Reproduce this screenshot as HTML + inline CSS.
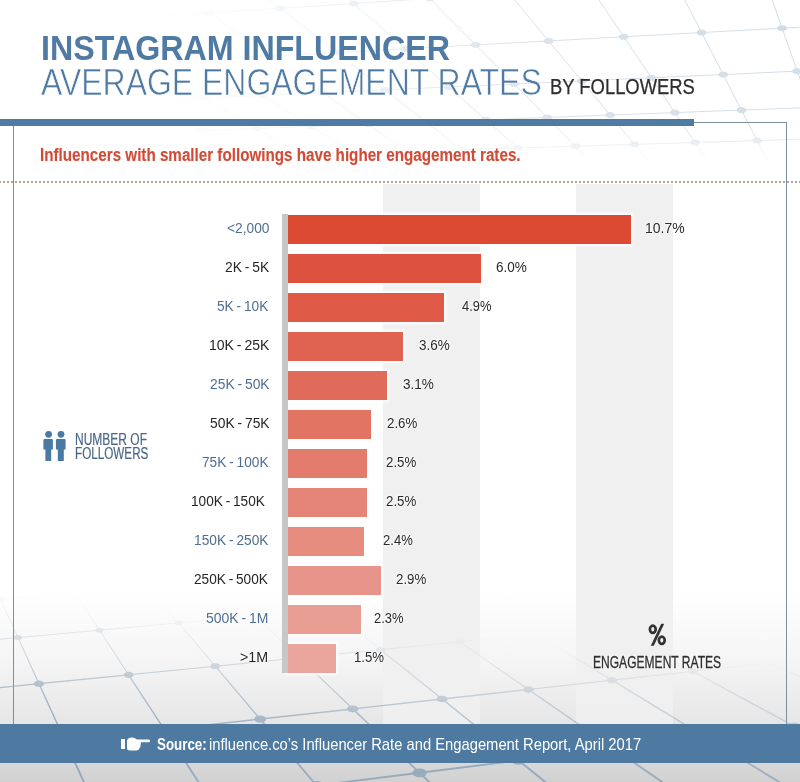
<!DOCTYPE html>
<html><head><meta charset="utf-8">
<style>
html,body{margin:0;padding:0;}
body{width:800px;height:782px;position:relative;overflow:hidden;background:#fff;font-family:"Liberation Sans",sans-serif;}
.a{position:absolute;}
.tx{position:absolute;white-space:nowrap;transform-origin:0 0;font-family:"Liberation Sans",sans-serif;}
#bg{position:absolute;left:0;top:0;width:800px;height:782px;background:linear-gradient(to bottom,#ffffff 0px,#ffffff 590px,#f5f5f5 660px,#e6e6e6 724px,#d8d8d8 763px,#d1d1d1 782px);}
.col{position:absolute;}
.bar{position:absolute;left:288px;height:29px;box-shadow:0 0 2px 2px rgba(255,255,255,0.85);}
</style></head><body>
<div id="bg"></div>
<svg class="a" style="left:0;top:0" width="800" height="782" viewBox="0 0 800 782">
<defs>
<linearGradient id="gb" x1="400" y1="628" x2="388" y2="758" gradientUnits="userSpaceOnUse"><stop offset="0" stop-color="#fff" stop-opacity="0"/><stop offset="1" stop-color="#fff" stop-opacity="1"/></linearGradient>
<mask id="mb" maskUnits="userSpaceOnUse" x="0" y="0" width="800" height="782"><rect x="0" y="0" width="800" height="782" fill="url(#gb)"/></mask>
<radialGradient id="gt" cx="780" cy="20" r="640" gradientUnits="userSpaceOnUse"><stop offset="0" stop-color="#fff" stop-opacity="1"/><stop offset="0.4" stop-color="#fff" stop-opacity="0.8"/><stop offset="0.75" stop-color="#fff" stop-opacity="0.3"/><stop offset="1" stop-color="#fff" stop-opacity="0"/></radialGradient><linearGradient id="gt2" x1="0" y1="0" x2="0" y2="200" gradientUnits="userSpaceOnUse"><stop offset="0" stop-color="#000" stop-opacity="0"/><stop offset="0.62" stop-color="#000" stop-opacity="0"/><stop offset="0.82" stop-color="#000" stop-opacity="1"/></linearGradient>
<mask id="mt" maskUnits="userSpaceOnUse" x="0" y="0" width="800" height="782"><rect x="0" y="0" width="800" height="200" fill="url(#gt)"/><rect x="0" y="0" width="800" height="200" fill="url(#gt2)"/></mask>
</defs><g mask="url(#mt)"><g stroke="#d3dce4" stroke-width="1" fill="none"><line x1="-1092.9" y1="-274.8" x2="294.0" y2="274.7"/><line x1="-1021.2" y1="-288.8" x2="328.0" y2="274.6"/><line x1="-945.8" y1="-303.6" x2="362.6" y2="274.5"/><line x1="-866.4" y1="-319.1" x2="397.7" y2="274.4"/><line x1="-782.8" y1="-335.5" x2="433.4" y2="274.3"/><line x1="-694.5" y1="-352.8" x2="469.7" y2="274.2"/><line x1="-601.2" y1="-371.0" x2="506.6" y2="274.1"/><line x1="-502.4" y1="-390.4" x2="544.1" y2="273.9"/><line x1="-397.6" y1="-410.9" x2="582.2" y2="273.8"/><line x1="-286.3" y1="-432.7" x2="621.0" y2="273.7"/><line x1="-167.8" y1="-455.9" x2="660.5" y2="273.6"/><line x1="-41.5" y1="-480.6" x2="700.7" y2="273.5"/><line x1="93.6" y1="-507.0" x2="741.5" y2="273.3"/><line x1="238.2" y1="-535.3" x2="783.1" y2="273.2"/><line x1="393.5" y1="-565.8" x2="825.4" y2="273.1"/><line x1="560.8" y1="-598.5" x2="868.5" y2="272.9"/><line x1="741.4" y1="-633.8" x2="912.4" y2="272.8"/><line x1="937.0" y1="-672.1" x2="957.0" y2="272.7"/><line x1="1149.5" y1="-713.7" x2="1002.5" y2="272.5"/><line x1="1381.3" y1="-759.1" x2="1048.8" y2="272.4"/><line x1="-1561.5" y1="-183.1" x2="2222.5" y2="-923.8"/><line x1="-1314.5" y1="-112.3" x2="1947.6" y2="-604.4"/><line x1="-1111.5" y1="-54.2" x2="1771.2" y2="-399.5"/><line x1="-941.7" y1="-5.6" x2="1648.4" y2="-256.8"/><line x1="-797.6" y1="35.7" x2="1558.0" y2="-151.8"/><line x1="-673.8" y1="71.1" x2="1488.6" y2="-71.2"/><line x1="-566.3" y1="101.9" x2="1433.7" y2="-7.5"/><line x1="-472.0" y1="128.9" x2="1389.2" y2="44.2"/><line x1="-388.7" y1="152.8" x2="1352.4" y2="87.0"/><line x1="-314.5" y1="174.0" x2="1321.4" y2="123.0"/><line x1="-248.0" y1="193.0" x2="1295.0" y2="153.7"/><line x1="-188.1" y1="210.2" x2="1272.2" y2="180.1"/><line x1="-133.9" y1="225.7" x2="1252.4" y2="203.2"/><line x1="-84.6" y1="239.8" x2="1234.9" y2="223.5"/><line x1="-39.4" y1="252.8" x2="1219.4" y2="241.5"/><line x1="1.9" y1="264.6" x2="1205.6" y2="257.5"/></g><g fill="#d3dce4"><ellipse cx="13.9" cy="163.8" rx="5" ry="3"/><ellipse cx="67.5" cy="185.0" rx="5" ry="3"/><ellipse cx="115.3" cy="203.9" rx="5" ry="3"/><ellipse cx="158.3" cy="221.0" rx="5" ry="3"/><ellipse cx="197.1" cy="236.3" rx="5" ry="3"/><ellipse cx="1.0" cy="138.0" rx="5" ry="3"/><ellipse cx="59.2" cy="162.3" rx="5" ry="3"/><ellipse cx="110.7" cy="183.9" rx="5" ry="3"/><ellipse cx="156.7" cy="203.1" rx="5" ry="3"/><ellipse cx="198.0" cy="220.3" rx="5" ry="3"/><ellipse cx="235.2" cy="235.9" rx="5" ry="3"/><ellipse cx="269.0" cy="250.0" rx="5" ry="3"/><ellipse cx="49.6" cy="136.2" rx="5" ry="3"/><ellipse cx="105.4" cy="160.9" rx="5" ry="3"/><ellipse cx="154.9" cy="182.7" rx="5" ry="3"/><ellipse cx="198.9" cy="202.2" rx="5" ry="3"/><ellipse cx="238.4" cy="219.7" rx="5" ry="3"/><ellipse cx="274.0" cy="235.4" rx="5" ry="3"/><ellipse cx="306.3" cy="249.7" rx="5" ry="3"/><ellipse cx="38.4" cy="105.7" rx="5" ry="3"/><ellipse cx="99.4" cy="134.3" rx="5" ry="3"/><ellipse cx="152.8" cy="159.4" rx="5" ry="3"/><ellipse cx="200.0" cy="181.6" rx="5" ry="3"/><ellipse cx="242.0" cy="201.3" rx="5" ry="3"/><ellipse cx="279.7" cy="219.0" rx="5" ry="3"/><ellipse cx="313.6" cy="234.9" rx="5" ry="3"/><ellipse cx="344.3" cy="249.3" rx="5" ry="3"/><ellipse cx="25.1" cy="69.6" rx="5" ry="3"/><ellipse cx="92.2" cy="103.2" rx="5" ry="3"/><ellipse cx="150.4" cy="132.4" rx="5" ry="3"/><ellipse cx="201.3" cy="157.9" rx="5" ry="3"/><ellipse cx="246.2" cy="180.4" rx="5" ry="3"/><ellipse cx="286.1" cy="200.4" rx="5" ry="3"/><ellipse cx="321.7" cy="218.3" rx="5" ry="3"/><ellipse cx="353.8" cy="234.4" rx="5" ry="3"/><ellipse cx="382.9" cy="249.0" rx="5" ry="3"/><ellipse cx="9.2" cy="26.2" rx="5" ry="3"/><ellipse cx="83.8" cy="66.4" rx="5" ry="3"/><ellipse cx="147.6" cy="100.7" rx="5" ry="3"/><ellipse cx="202.8" cy="130.4" rx="5" ry="3"/><ellipse cx="250.9" cy="156.4" rx="5" ry="3"/><ellipse cx="293.4" cy="179.2" rx="5" ry="3"/><ellipse cx="331.0" cy="199.5" rx="5" ry="3"/><ellipse cx="364.7" cy="217.6" rx="5" ry="3"/><ellipse cx="394.9" cy="233.9" rx="5" ry="3"/><ellipse cx="422.2" cy="248.6" rx="5" ry="3"/><ellipse cx="73.6" cy="21.9" rx="5" ry="3"/><ellipse cx="144.2" cy="63.0" rx="5" ry="3"/><ellipse cx="204.5" cy="98.1" rx="5" ry="3"/><ellipse cx="256.5" cy="128.4" rx="5" ry="3"/><ellipse cx="301.8" cy="154.8" rx="5" ry="3"/><ellipse cx="341.6" cy="178.0" rx="5" ry="3"/><ellipse cx="376.9" cy="198.5" rx="5" ry="3"/><ellipse cx="408.4" cy="216.9" rx="5" ry="3"/><ellipse cx="436.7" cy="233.4" rx="5" ry="3"/><ellipse cx="462.3" cy="248.3" rx="5" ry="3"/><ellipse cx="140.2" cy="17.5" rx="5" ry="3"/><ellipse cx="206.5" cy="59.6" rx="5" ry="3"/><ellipse cx="263.0" cy="95.5" rx="5" ry="3"/><ellipse cx="311.5" cy="126.3" rx="5" ry="3"/><ellipse cx="353.8" cy="153.2" rx="5" ry="3"/><ellipse cx="391.0" cy="176.7" rx="5" ry="3"/><ellipse cx="423.8" cy="197.6" rx="5" ry="3"/><ellipse cx="453.1" cy="216.2" rx="5" ry="3"/><ellipse cx="479.4" cy="232.9" rx="5" ry="3"/><ellipse cx="503.1" cy="247.9" rx="5" ry="3"/><ellipse cx="209.0" cy="13.0" rx="5" ry="3"/><ellipse cx="270.7" cy="56.1" rx="5" ry="3"/><ellipse cx="323.1" cy="92.7" rx="5" ry="3"/><ellipse cx="368.1" cy="124.2" rx="5" ry="3"/><ellipse cx="407.2" cy="151.5" rx="5" ry="3"/><ellipse cx="441.4" cy="175.4" rx="5" ry="3"/><ellipse cx="471.7" cy="196.6" rx="5" ry="3"/><ellipse cx="498.7" cy="215.4" rx="5" ry="3"/><ellipse cx="522.8" cy="232.3" rx="5" ry="3"/><ellipse cx="544.6" cy="247.5" rx="5" ry="3"/><ellipse cx="280.2" cy="8.3" rx="5" ry="3"/><ellipse cx="336.9" cy="52.5" rx="5" ry="3"/><ellipse cx="385.0" cy="89.9" rx="5" ry="3"/><ellipse cx="426.2" cy="122.0" rx="5" ry="3"/><ellipse cx="461.9" cy="149.8" rx="5" ry="3"/><ellipse cx="493.1" cy="174.1" rx="5" ry="3"/><ellipse cx="520.7" cy="195.6" rx="5" ry="3"/><ellipse cx="545.2" cy="214.7" rx="5" ry="3"/><ellipse cx="567.2" cy="231.8" rx="5" ry="3"/><ellipse cx="586.9" cy="247.1" rx="5" ry="3"/><ellipse cx="353.8" cy="3.5" rx="5" ry="3"/><ellipse cx="405.2" cy="48.8" rx="5" ry="3"/><ellipse cx="448.7" cy="87.0" rx="5" ry="3"/><ellipse cx="485.8" cy="119.7" rx="5" ry="3"/><ellipse cx="517.9" cy="148.0" rx="5" ry="3"/><ellipse cx="546.0" cy="172.8" rx="5" ry="3"/><ellipse cx="570.8" cy="194.6" rx="5" ry="3"/><ellipse cx="592.7" cy="213.9" rx="5" ry="3"/><ellipse cx="612.4" cy="231.2" rx="5" ry="3"/><ellipse cx="630.0" cy="246.8" rx="5" ry="3"/><ellipse cx="430.0" cy="-1.5" rx="5" ry="3"/><ellipse cx="475.7" cy="44.9" rx="5" ry="3"/><ellipse cx="514.2" cy="84.0" rx="5" ry="3"/><ellipse cx="547.1" cy="117.4" rx="5" ry="3"/><ellipse cx="575.5" cy="146.2" rx="5" ry="3"/><ellipse cx="600.2" cy="171.4" rx="5" ry="3"/><ellipse cx="622.0" cy="193.5" rx="5" ry="3"/><ellipse cx="641.3" cy="213.1" rx="5" ry="3"/><ellipse cx="658.5" cy="230.6" rx="5" ry="3"/><ellipse cx="674.0" cy="246.4" rx="5" ry="3"/><ellipse cx="509.0" cy="-6.7" rx="5" ry="3"/><ellipse cx="548.6" cy="40.9" rx="5" ry="3"/><ellipse cx="581.8" cy="81.0" rx="5" ry="3"/><ellipse cx="610.1" cy="115.0" rx="5" ry="3"/><ellipse cx="634.5" cy="144.4" rx="5" ry="3"/><ellipse cx="655.7" cy="170.0" rx="5" ry="3"/><ellipse cx="674.3" cy="192.4" rx="5" ry="3"/><ellipse cx="690.9" cy="212.3" rx="5" ry="3"/><ellipse cx="705.6" cy="230.0" rx="5" ry="3"/><ellipse cx="718.8" cy="246.0" rx="5" ry="3"/><ellipse cx="623.8" cy="36.8" rx="5" ry="3"/><ellipse cx="651.4" cy="77.8" rx="5" ry="3"/><ellipse cx="674.9" cy="112.6" rx="5" ry="3"/><ellipse cx="695.0" cy="142.5" rx="5" ry="3"/><ellipse cx="712.5" cy="168.5" rx="5" ry="3"/><ellipse cx="727.9" cy="191.3" rx="5" ry="3"/><ellipse cx="741.5" cy="211.5" rx="5" ry="3"/><ellipse cx="753.6" cy="229.5" rx="5" ry="3"/><ellipse cx="764.5" cy="245.6" rx="5" ry="3"/><ellipse cx="701.6" cy="32.6" rx="5" ry="3"/><ellipse cx="723.2" cy="74.5" rx="5" ry="3"/><ellipse cx="741.5" cy="110.1" rx="5" ry="3"/><ellipse cx="757.2" cy="140.6" rx="5" ry="3"/><ellipse cx="770.8" cy="167.0" rx="5" ry="3"/><ellipse cx="782.7" cy="190.2" rx="5" ry="3"/><ellipse cx="793.3" cy="210.7" rx="5" ry="3"/><ellipse cx="802.6" cy="228.8" rx="5" ry="3"/><ellipse cx="782.1" cy="28.2" rx="5" ry="3"/><ellipse cx="797.2" cy="71.2" rx="5" ry="3"/></g></g>
</svg>

<!-- frame lines -->
<div class="a" style="left:0;top:119px;width:694px;height:7px;background:#4f7ba3;"></div>
<div class="a" style="left:694px;top:122px;width:93px;height:1px;background:#7b8fa3;"></div>
<div class="a" style="left:786px;top:122px;width:1px;height:602px;background:#7b8fa3;"></div>
<div class="a" style="left:13px;top:126px;width:1px;height:598px;background:#7b8fa3;"></div>

<div class="a" style="left:0;top:181px;width:800px;height:2px;background-image:linear-gradient(to right,#b3a59c 50%,transparent 50%);background-size:4px 2px;background-position:-1px 0;"></div>

<!-- columns -->
<div class="col" style="left:383px;top:184px;width:97px;height:540px;background:linear-gradient(to bottom,#f0f0f1 0px,#f0f0f1 470px,rgba(240,240,241,0.6) 620px,rgba(240,240,241,0) 720px);"></div>
<div class="col" style="left:576px;top:184px;width:97px;height:540px;background:linear-gradient(to bottom,#f0f0f1 0px,#f0f0f1 470px,rgba(240,240,241,0.6) 620px,rgba(240,240,241,0) 720px);"></div>

<svg class="a" style="left:0;top:0" width="800" height="782" viewBox="0 0 800 782">
<g mask="url(#mb)"><g stroke="#98abbd" fill="none" stroke-linecap="round"><line x1="-394.8" y1="498.6" x2="-409.3" y2="519.3" stroke-width="0.90"/><line x1="-409.3" y1="519.3" x2="-425.9" y2="543.0" stroke-width="0.90"/><line x1="-425.9" y1="543.0" x2="-445.1" y2="570.5" stroke-width="0.90"/><line x1="-445.1" y1="570.5" x2="-467.7" y2="602.7" stroke-width="0.90"/><line x1="-467.7" y1="602.7" x2="-494.5" y2="641.0" stroke-width="0.90"/><line x1="-494.5" y1="641.0" x2="-526.9" y2="687.2" stroke-width="1.09"/><line x1="-526.9" y1="687.2" x2="-566.8" y2="744.2" stroke-width="1.48"/><line x1="-566.8" y1="744.2" x2="-617.1" y2="816.1" stroke-width="1.98"/><line x1="-335.4" y1="495.0" x2="-345.7" y2="515.2" stroke-width="0.90"/><line x1="-345.7" y1="515.2" x2="-357.5" y2="538.3" stroke-width="0.90"/><line x1="-357.5" y1="538.3" x2="-371.1" y2="565.1" stroke-width="0.90"/><line x1="-371.1" y1="565.1" x2="-387.1" y2="596.4" stroke-width="0.90"/><line x1="-387.1" y1="596.4" x2="-406.0" y2="633.5" stroke-width="0.90"/><line x1="-406.0" y1="633.5" x2="-428.8" y2="678.3" stroke-width="1.02"/><line x1="-428.8" y1="678.3" x2="-456.8" y2="733.2" stroke-width="1.41"/><line x1="-456.8" y1="733.2" x2="-492.0" y2="802.3" stroke-width="1.88"/><line x1="-277.1" y1="491.4" x2="-283.4" y2="511.1" stroke-width="0.90"/><line x1="-283.4" y1="511.1" x2="-290.6" y2="533.7" stroke-width="0.90"/><line x1="-290.6" y1="533.7" x2="-298.9" y2="559.8" stroke-width="0.90"/><line x1="-298.9" y1="559.8" x2="-308.5" y2="590.3" stroke-width="0.90"/><line x1="-308.5" y1="590.3" x2="-320.0" y2="626.3" stroke-width="0.90"/><line x1="-320.0" y1="626.3" x2="-333.8" y2="669.6" stroke-width="0.96"/><line x1="-333.8" y1="669.6" x2="-350.6" y2="722.6" stroke-width="1.33"/><line x1="-350.6" y1="722.6" x2="-371.8" y2="789.0" stroke-width="1.79"/><line x1="-371.8" y1="789.0" x2="-399.0" y2="874.6" stroke-width="2.00"/><line x1="-219.9" y1="487.9" x2="-222.4" y2="507.2" stroke-width="0.90"/><line x1="-222.4" y1="507.2" x2="-225.1" y2="529.2" stroke-width="0.90"/><line x1="-225.1" y1="529.2" x2="-228.3" y2="554.7" stroke-width="0.90"/><line x1="-228.3" y1="554.7" x2="-232.1" y2="584.3" stroke-width="0.90"/><line x1="-232.1" y1="584.3" x2="-236.5" y2="619.3" stroke-width="0.90"/><line x1="-236.5" y1="619.3" x2="-241.7" y2="661.2" stroke-width="0.90"/><line x1="-241.7" y1="661.2" x2="-248.2" y2="712.4" stroke-width="1.26"/><line x1="-248.2" y1="712.4" x2="-256.2" y2="776.2" stroke-width="1.70"/><line x1="-256.2" y1="776.2" x2="-266.5" y2="858.1" stroke-width="2.00"/><line x1="-163.9" y1="484.4" x2="-162.6" y2="503.3" stroke-width="0.90"/><line x1="-162.6" y1="503.3" x2="-161.2" y2="524.8" stroke-width="0.90"/><line x1="-161.2" y1="524.8" x2="-159.5" y2="549.6" stroke-width="0.90"/><line x1="-159.5" y1="549.6" x2="-157.6" y2="578.5" stroke-width="0.90"/><line x1="-157.6" y1="578.5" x2="-155.3" y2="612.5" stroke-width="0.90"/><line x1="-155.3" y1="612.5" x2="-152.5" y2="653.1" stroke-width="0.90"/><line x1="-152.5" y1="653.1" x2="-149.2" y2="702.5" stroke-width="1.19"/><line x1="-149.2" y1="702.5" x2="-145.0" y2="763.9" stroke-width="1.62"/><line x1="-145.0" y1="763.9" x2="-139.8" y2="842.3" stroke-width="2.00"/><line x1="-108.9" y1="481.0" x2="-104.1" y2="499.5" stroke-width="0.90"/><line x1="-104.1" y1="499.5" x2="-98.6" y2="520.6" stroke-width="0.90"/><line x1="-98.6" y1="520.6" x2="-92.3" y2="544.7" stroke-width="0.90"/><line x1="-92.3" y1="544.7" x2="-84.9" y2="572.8" stroke-width="0.90"/><line x1="-84.9" y1="572.8" x2="-76.3" y2="605.9" stroke-width="0.90"/><line x1="-76.3" y1="605.9" x2="-66.0" y2="645.2" stroke-width="0.90"/><line x1="-66.0" y1="645.2" x2="-53.5" y2="693.0" stroke-width="1.12"/><line x1="-53.5" y1="693.0" x2="-38.0" y2="752.1" stroke-width="1.53"/><line x1="-38.0" y1="752.1" x2="-18.4" y2="827.2" stroke-width="2.00"/><line x1="-55.0" y1="477.7" x2="-46.8" y2="495.8" stroke-width="0.90"/><line x1="-46.8" y1="495.8" x2="-37.4" y2="516.4" stroke-width="0.90"/><line x1="-37.4" y1="516.4" x2="-26.6" y2="539.9" stroke-width="0.90"/><line x1="-26.6" y1="539.9" x2="-14.1" y2="567.3" stroke-width="0.90"/><line x1="-14.1" y1="567.3" x2="0.5" y2="599.4" stroke-width="0.90"/><line x1="0.5" y1="599.4" x2="18.0" y2="637.6" stroke-width="0.90"/><line x1="18.0" y1="637.6" x2="39.0" y2="683.7" stroke-width="1.06"/><line x1="39.0" y1="683.7" x2="65.0" y2="740.7" stroke-width="1.46"/><line x1="65.0" y1="740.7" x2="97.9" y2="812.8" stroke-width="1.95"/><line x1="-2.1" y1="474.5" x2="9.4" y2="492.1" stroke-width="0.90"/><line x1="9.4" y1="492.1" x2="22.5" y2="512.2" stroke-width="0.90"/><line x1="22.5" y1="512.2" x2="37.6" y2="535.3" stroke-width="0.90"/><line x1="37.6" y1="535.3" x2="54.9" y2="561.9" stroke-width="0.90"/><line x1="54.9" y1="561.9" x2="75.3" y2="593.1" stroke-width="0.90"/><line x1="75.3" y1="593.1" x2="99.5" y2="630.2" stroke-width="0.90"/><line x1="99.5" y1="630.2" x2="128.6" y2="674.8" stroke-width="1.00"/><line x1="128.6" y1="674.8" x2="164.4" y2="729.7" stroke-width="1.38"/><line x1="164.4" y1="729.7" x2="209.5" y2="798.9" stroke-width="1.86"/><line x1="209.5" y1="798.9" x2="268.1" y2="888.7" stroke-width="2.00"/><line x1="49.8" y1="471.3" x2="64.5" y2="488.6" stroke-width="0.90"/><line x1="64.5" y1="488.6" x2="81.2" y2="508.2" stroke-width="0.90"/><line x1="81.2" y1="508.2" x2="100.3" y2="530.7" stroke-width="0.90"/><line x1="100.3" y1="530.7" x2="122.3" y2="556.7" stroke-width="0.90"/><line x1="122.3" y1="556.7" x2="148.1" y2="587.0" stroke-width="0.90"/><line x1="148.1" y1="587.0" x2="178.6" y2="622.9" stroke-width="0.90"/><line x1="178.6" y1="622.9" x2="215.3" y2="666.2" stroke-width="0.94"/><line x1="215.3" y1="666.2" x2="260.2" y2="719.1" stroke-width="1.30"/><line x1="260.2" y1="719.1" x2="316.6" y2="785.6" stroke-width="1.76"/><line x1="316.6" y1="785.6" x2="389.5" y2="871.4" stroke-width="2.00"/><line x1="100.8" y1="468.1" x2="118.5" y2="485.1" stroke-width="0.90"/><line x1="118.5" y1="485.1" x2="138.6" y2="504.3" stroke-width="0.90"/><line x1="138.6" y1="504.3" x2="161.6" y2="526.2" stroke-width="0.90"/><line x1="161.6" y1="526.2" x2="188.1" y2="551.5" stroke-width="0.90"/><line x1="188.1" y1="551.5" x2="219.0" y2="581.1" stroke-width="0.90"/><line x1="219.0" y1="581.1" x2="255.5" y2="615.9" stroke-width="0.90"/><line x1="255.5" y1="615.9" x2="299.3" y2="657.8" stroke-width="0.90"/><line x1="299.3" y1="657.8" x2="352.8" y2="708.9" stroke-width="1.23"/><line x1="352.8" y1="708.9" x2="419.6" y2="772.8" stroke-width="1.68"/><line x1="419.6" y1="772.8" x2="505.5" y2="854.8" stroke-width="2.00"/><line x1="150.9" y1="465.0" x2="171.5" y2="481.6" stroke-width="0.90"/><line x1="171.5" y1="481.6" x2="194.9" y2="500.4" stroke-width="0.90"/><line x1="194.9" y1="500.4" x2="221.6" y2="521.8" stroke-width="0.90"/><line x1="221.6" y1="521.8" x2="252.3" y2="546.5" stroke-width="0.90"/><line x1="252.3" y1="546.5" x2="288.1" y2="575.3" stroke-width="0.90"/><line x1="288.1" y1="575.3" x2="330.2" y2="609.1" stroke-width="0.90"/><line x1="330.2" y1="609.1" x2="380.7" y2="649.7" stroke-width="0.90"/><line x1="380.7" y1="649.7" x2="442.1" y2="699.0" stroke-width="1.16"/><line x1="442.1" y1="699.0" x2="518.6" y2="760.5" stroke-width="1.59"/><line x1="518.6" y1="760.5" x2="616.4" y2="839.0" stroke-width="2.00"/><line x1="223.5" y1="478.3" x2="250.0" y2="496.6" stroke-width="0.90"/><line x1="250.0" y1="496.6" x2="280.2" y2="517.6" stroke-width="0.90"/><line x1="280.2" y1="517.6" x2="315.0" y2="541.6" stroke-width="0.90"/><line x1="315.0" y1="541.6" x2="355.4" y2="569.6" stroke-width="0.90"/><line x1="355.4" y1="569.6" x2="402.9" y2="602.5" stroke-width="0.90"/><line x1="402.9" y1="602.5" x2="459.6" y2="641.8" stroke-width="0.90"/><line x1="459.6" y1="641.8" x2="528.5" y2="689.5" stroke-width="1.10"/><line x1="528.5" y1="689.5" x2="613.9" y2="748.6" stroke-width="1.51"/><line x1="613.9" y1="748.6" x2="722.6" y2="823.9" stroke-width="2.00"/><line x1="274.4" y1="475.0" x2="304.0" y2="492.9" stroke-width="0.90"/><line x1="304.0" y1="492.9" x2="337.6" y2="513.4" stroke-width="0.90"/><line x1="337.6" y1="513.4" x2="376.2" y2="536.9" stroke-width="0.90"/><line x1="376.2" y1="536.9" x2="421.0" y2="564.1" stroke-width="0.90"/><line x1="421.0" y1="564.1" x2="473.6" y2="596.1" stroke-width="0.90"/><line x1="473.6" y1="596.1" x2="536.2" y2="634.1" stroke-width="0.90"/><line x1="536.2" y1="634.1" x2="612.0" y2="680.2" stroke-width="1.03"/><line x1="612.0" y1="680.2" x2="705.6" y2="737.2" stroke-width="1.43"/><line x1="705.6" y1="737.2" x2="824.3" y2="809.4" stroke-width="1.93"/><line x1="324.4" y1="471.7" x2="356.9" y2="489.3" stroke-width="0.90"/><line x1="356.9" y1="489.3" x2="393.7" y2="509.3" stroke-width="0.90"/><line x1="393.7" y1="509.3" x2="436.0" y2="532.2" stroke-width="0.90"/><line x1="436.0" y1="532.2" x2="485.0" y2="558.7" stroke-width="0.90"/><line x1="485.0" y1="558.7" x2="542.4" y2="589.8" stroke-width="0.90"/><line x1="542.4" y1="589.8" x2="610.5" y2="626.7" stroke-width="0.90"/><line x1="610.5" y1="626.7" x2="692.8" y2="671.3" stroke-width="0.97"/><line x1="692.8" y1="671.3" x2="794.1" y2="726.2" stroke-width="1.35"/><line x1="794.1" y1="726.2" x2="921.9" y2="795.4" stroke-width="1.83"/><line x1="921.9" y1="795.4" x2="1088.1" y2="885.5" stroke-width="2.00"/><line x1="373.5" y1="468.5" x2="408.7" y2="485.7" stroke-width="0.90"/><line x1="408.7" y1="485.7" x2="448.7" y2="505.3" stroke-width="0.90"/><line x1="448.7" y1="505.3" x2="494.5" y2="527.6" stroke-width="0.90"/><line x1="494.5" y1="527.6" x2="547.4" y2="553.5" stroke-width="0.90"/><line x1="547.4" y1="553.5" x2="609.3" y2="583.7" stroke-width="0.90"/><line x1="609.3" y1="583.7" x2="682.7" y2="619.5" stroke-width="0.90"/><line x1="682.7" y1="619.5" x2="771.0" y2="662.7" stroke-width="0.91"/><line x1="771.0" y1="662.7" x2="879.4" y2="715.6" stroke-width="1.28"/><line x1="879.4" y1="715.6" x2="1015.5" y2="782.1" stroke-width="1.74"/><line x1="1015.5" y1="782.1" x2="1191.7" y2="868.1" stroke-width="2.00"/><line x1="421.6" y1="465.4" x2="459.5" y2="482.2" stroke-width="0.90"/><line x1="459.5" y1="482.2" x2="502.5" y2="501.3" stroke-width="0.90"/><line x1="502.5" y1="501.3" x2="551.6" y2="523.2" stroke-width="0.90"/><line x1="551.6" y1="523.2" x2="608.3" y2="548.4" stroke-width="0.90"/><line x1="608.3" y1="548.4" x2="674.5" y2="577.8" stroke-width="0.90"/><line x1="674.5" y1="577.8" x2="752.8" y2="612.5" stroke-width="0.90"/><line x1="752.8" y1="612.5" x2="846.7" y2="654.3" stroke-width="0.90"/><line x1="846.7" y1="654.3" x2="961.7" y2="705.4" stroke-width="1.21"/><line x1="961.7" y1="705.4" x2="1105.5" y2="769.3" stroke-width="1.65"/><line x1="1105.5" y1="769.3" x2="1290.6" y2="851.5" stroke-width="2.00"/><line x1="509.4" y1="478.8" x2="555.2" y2="497.5" stroke-width="0.90"/><line x1="555.2" y1="497.5" x2="607.5" y2="518.8" stroke-width="0.90"/><line x1="607.5" y1="518.8" x2="667.8" y2="543.4" stroke-width="0.90"/><line x1="667.8" y1="543.4" x2="738.0" y2="572.0" stroke-width="0.90"/><line x1="738.0" y1="572.0" x2="820.9" y2="605.7" stroke-width="0.90"/><line x1="820.9" y1="605.7" x2="920.1" y2="646.2" stroke-width="0.90"/><line x1="920.1" y1="646.2" x2="1041.1" y2="695.5" stroke-width="1.14"/><line x1="1041.1" y1="695.5" x2="1191.9" y2="756.9" stroke-width="1.56"/><line x1="1191.9" y1="756.9" x2="1385.1" y2="835.6" stroke-width="2.00"/><line x1="558.3" y1="475.5" x2="606.8" y2="493.7" stroke-width="0.90"/><line x1="606.8" y1="493.7" x2="662.2" y2="514.5" stroke-width="0.90"/><line x1="662.2" y1="514.5" x2="725.8" y2="538.5" stroke-width="0.90"/><line x1="725.8" y1="538.5" x2="799.9" y2="566.3" stroke-width="0.90"/><line x1="799.9" y1="566.3" x2="887.1" y2="599.1" stroke-width="0.90"/><line x1="887.1" y1="599.1" x2="991.3" y2="638.3" stroke-width="0.90"/><line x1="991.3" y1="638.3" x2="1117.9" y2="685.9" stroke-width="1.07"/><line x1="1117.9" y1="685.9" x2="1275.1" y2="745.1" stroke-width="1.48"/><line x1="1275.1" y1="745.1" x2="1475.6" y2="820.4" stroke-width="2.00"/><line x1="606.2" y1="472.2" x2="657.4" y2="490.0" stroke-width="0.90"/><line x1="657.4" y1="490.0" x2="715.6" y2="510.4" stroke-width="0.90"/><line x1="715.6" y1="510.4" x2="782.6" y2="533.7" stroke-width="0.90"/><line x1="782.6" y1="533.7" x2="860.2" y2="560.8" stroke-width="0.90"/><line x1="860.2" y1="560.8" x2="951.5" y2="592.7" stroke-width="0.90"/><line x1="951.5" y1="592.7" x2="1060.3" y2="630.7" stroke-width="0.90"/><line x1="1060.3" y1="630.7" x2="1192.1" y2="676.7" stroke-width="1.01"/><line x1="1192.1" y1="676.7" x2="1355.3" y2="733.6" stroke-width="1.40"/><line x1="1355.3" y1="733.6" x2="1562.3" y2="805.9" stroke-width="1.90"/><line x1="653.3" y1="468.9" x2="706.9" y2="486.4" stroke-width="0.90"/><line x1="706.9" y1="486.4" x2="767.9" y2="506.3" stroke-width="0.90"/><line x1="767.9" y1="506.3" x2="837.9" y2="529.1" stroke-width="0.90"/><line x1="837.9" y1="529.1" x2="919.1" y2="555.5" stroke-width="0.90"/><line x1="919.1" y1="555.5" x2="1014.2" y2="586.5" stroke-width="0.90"/><line x1="1014.2" y1="586.5" x2="1127.3" y2="623.3" stroke-width="0.90"/><line x1="1127.3" y1="623.3" x2="1263.9" y2="667.8" stroke-width="0.94"/><line x1="1263.9" y1="667.8" x2="1432.4" y2="722.6" stroke-width="1.32"/><line x1="1432.4" y1="722.6" x2="1645.3" y2="791.9" stroke-width="1.80"/><line x1="1645.3" y1="791.9" x2="1922.9" y2="882.3" stroke-width="2.00"/><line x1="699.4" y1="465.8" x2="755.5" y2="482.9" stroke-width="0.90"/><line x1="755.5" y1="482.9" x2="819.1" y2="502.3" stroke-width="0.90"/><line x1="819.1" y1="502.3" x2="892.1" y2="524.5" stroke-width="0.90"/><line x1="892.1" y1="524.5" x2="976.4" y2="550.3" stroke-width="0.90"/><line x1="976.4" y1="550.3" x2="1075.2" y2="580.4" stroke-width="0.90"/><line x1="1075.2" y1="580.4" x2="1192.3" y2="616.1" stroke-width="0.90"/><line x1="1192.3" y1="616.1" x2="1333.4" y2="659.1" stroke-width="0.90"/><line x1="1333.4" y1="659.1" x2="1506.9" y2="712.0" stroke-width="1.25"/><line x1="1506.9" y1="712.0" x2="1725.1" y2="778.6" stroke-width="1.71"/><line x1="1725.1" y1="778.6" x2="2007.9" y2="864.8" stroke-width="2.00"/><line x1="803.1" y1="479.4" x2="869.3" y2="498.4" stroke-width="0.90"/><line x1="869.3" y1="498.4" x2="945.0" y2="520.1" stroke-width="0.90"/><line x1="945.0" y1="520.1" x2="1032.4" y2="545.2" stroke-width="0.90"/><line x1="1032.4" y1="545.2" x2="1134.6" y2="574.4" stroke-width="0.90"/><line x1="1134.6" y1="574.4" x2="1255.4" y2="609.1" stroke-width="0.90"/><line x1="1255.4" y1="609.1" x2="1400.7" y2="650.8" stroke-width="0.90"/><line x1="1400.7" y1="650.8" x2="1578.7" y2="701.8" stroke-width="1.18"/><line x1="1578.7" y1="701.8" x2="1801.6" y2="765.7" stroke-width="1.62"/><line x1="1801.6" y1="765.7" x2="2089.2" y2="848.1" stroke-width="2.00"/><line x1="-46.8" y1="495.8" x2="9.4" y2="492.1" stroke-width="0.90"/><line x1="9.4" y1="492.1" x2="64.5" y2="488.6" stroke-width="0.90"/><line x1="64.5" y1="488.6" x2="118.5" y2="485.1" stroke-width="0.90"/><line x1="118.5" y1="485.1" x2="171.5" y2="481.6" stroke-width="0.90"/><line x1="171.5" y1="481.6" x2="223.5" y2="478.3" stroke-width="0.90"/><line x1="-37.4" y1="516.4" x2="22.5" y2="512.2" stroke-width="0.90"/><line x1="22.5" y1="512.2" x2="81.2" y2="508.2" stroke-width="0.90"/><line x1="81.2" y1="508.2" x2="138.6" y2="504.3" stroke-width="0.90"/><line x1="138.6" y1="504.3" x2="194.9" y2="500.4" stroke-width="0.90"/><line x1="194.9" y1="500.4" x2="250.0" y2="496.6" stroke-width="0.90"/><line x1="250.0" y1="496.6" x2="304.0" y2="492.9" stroke-width="0.90"/><line x1="304.0" y1="492.9" x2="356.9" y2="489.3" stroke-width="0.90"/><line x1="356.9" y1="489.3" x2="408.7" y2="485.7" stroke-width="0.90"/><line x1="408.7" y1="485.7" x2="459.5" y2="482.2" stroke-width="0.90"/><line x1="459.5" y1="482.2" x2="509.4" y2="478.8" stroke-width="0.90"/><line x1="-26.6" y1="539.9" x2="37.6" y2="535.3" stroke-width="0.90"/><line x1="37.6" y1="535.3" x2="100.3" y2="530.7" stroke-width="0.90"/><line x1="100.3" y1="530.7" x2="161.6" y2="526.2" stroke-width="0.90"/><line x1="161.6" y1="526.2" x2="221.6" y2="521.8" stroke-width="0.90"/><line x1="221.6" y1="521.8" x2="280.2" y2="517.6" stroke-width="0.90"/><line x1="280.2" y1="517.6" x2="337.6" y2="513.4" stroke-width="0.90"/><line x1="337.6" y1="513.4" x2="393.7" y2="509.3" stroke-width="0.90"/><line x1="393.7" y1="509.3" x2="448.7" y2="505.3" stroke-width="0.90"/><line x1="448.7" y1="505.3" x2="502.5" y2="501.3" stroke-width="0.90"/><line x1="502.5" y1="501.3" x2="555.2" y2="497.5" stroke-width="0.90"/><line x1="555.2" y1="497.5" x2="606.8" y2="493.7" stroke-width="0.90"/><line x1="606.8" y1="493.7" x2="657.4" y2="490.0" stroke-width="0.90"/><line x1="657.4" y1="490.0" x2="706.9" y2="486.4" stroke-width="0.90"/><line x1="706.9" y1="486.4" x2="755.5" y2="482.9" stroke-width="0.90"/><line x1="755.5" y1="482.9" x2="803.1" y2="479.4" stroke-width="0.90"/><line x1="-84.9" y1="572.8" x2="-14.1" y2="567.3" stroke-width="0.90"/><line x1="-14.1" y1="567.3" x2="54.9" y2="561.9" stroke-width="0.90"/><line x1="54.9" y1="561.9" x2="122.3" y2="556.7" stroke-width="0.90"/><line x1="122.3" y1="556.7" x2="188.1" y2="551.5" stroke-width="0.90"/><line x1="188.1" y1="551.5" x2="252.3" y2="546.5" stroke-width="0.90"/><line x1="252.3" y1="546.5" x2="315.0" y2="541.6" stroke-width="0.90"/><line x1="315.0" y1="541.6" x2="376.2" y2="536.9" stroke-width="0.90"/><line x1="376.2" y1="536.9" x2="436.0" y2="532.2" stroke-width="0.90"/><line x1="436.0" y1="532.2" x2="494.5" y2="527.6" stroke-width="0.90"/><line x1="494.5" y1="527.6" x2="551.6" y2="523.2" stroke-width="0.90"/><line x1="551.6" y1="523.2" x2="607.5" y2="518.8" stroke-width="0.90"/><line x1="607.5" y1="518.8" x2="662.2" y2="514.5" stroke-width="0.90"/><line x1="662.2" y1="514.5" x2="715.6" y2="510.4" stroke-width="0.90"/><line x1="715.6" y1="510.4" x2="767.9" y2="506.3" stroke-width="0.90"/><line x1="767.9" y1="506.3" x2="819.1" y2="502.3" stroke-width="0.90"/><line x1="819.1" y1="502.3" x2="869.3" y2="498.4" stroke-width="0.90"/><line x1="-76.3" y1="605.9" x2="0.5" y2="599.4" stroke-width="0.90"/><line x1="0.5" y1="599.4" x2="75.3" y2="593.1" stroke-width="0.90"/><line x1="75.3" y1="593.1" x2="148.1" y2="587.0" stroke-width="0.90"/><line x1="148.1" y1="587.0" x2="219.0" y2="581.1" stroke-width="0.90"/><line x1="219.0" y1="581.1" x2="288.1" y2="575.3" stroke-width="0.90"/><line x1="288.1" y1="575.3" x2="355.4" y2="569.6" stroke-width="0.90"/><line x1="355.4" y1="569.6" x2="421.0" y2="564.1" stroke-width="0.90"/><line x1="421.0" y1="564.1" x2="485.0" y2="558.7" stroke-width="0.90"/><line x1="485.0" y1="558.7" x2="547.4" y2="553.5" stroke-width="0.90"/><line x1="547.4" y1="553.5" x2="608.3" y2="548.4" stroke-width="0.90"/><line x1="608.3" y1="548.4" x2="667.8" y2="543.4" stroke-width="0.90"/><line x1="667.8" y1="543.4" x2="725.8" y2="538.5" stroke-width="0.90"/><line x1="725.8" y1="538.5" x2="782.6" y2="533.7" stroke-width="0.90"/><line x1="782.6" y1="533.7" x2="837.9" y2="529.1" stroke-width="0.90"/><line x1="-66.0" y1="645.2" x2="18.0" y2="637.6" stroke-width="0.91"/><line x1="18.0" y1="637.6" x2="99.5" y2="630.2" stroke-width="0.90"/><line x1="99.5" y1="630.2" x2="178.6" y2="622.9" stroke-width="0.90"/><line x1="178.6" y1="622.9" x2="255.5" y2="615.9" stroke-width="0.90"/><line x1="255.5" y1="615.9" x2="330.2" y2="609.1" stroke-width="0.90"/><line x1="330.2" y1="609.1" x2="402.9" y2="602.5" stroke-width="0.90"/><line x1="402.9" y1="602.5" x2="473.6" y2="596.1" stroke-width="0.90"/><line x1="473.6" y1="596.1" x2="542.4" y2="589.8" stroke-width="0.90"/><line x1="542.4" y1="589.8" x2="609.3" y2="583.7" stroke-width="0.90"/><line x1="609.3" y1="583.7" x2="674.5" y2="577.8" stroke-width="0.90"/><line x1="674.5" y1="577.8" x2="738.0" y2="572.0" stroke-width="0.90"/><line x1="738.0" y1="572.0" x2="799.9" y2="566.3" stroke-width="0.90"/><line x1="799.9" y1="566.3" x2="860.2" y2="560.8" stroke-width="0.90"/><line x1="-53.5" y1="693.0" x2="39.0" y2="683.7" stroke-width="1.27"/><line x1="39.0" y1="683.7" x2="128.6" y2="674.8" stroke-width="1.20"/><line x1="128.6" y1="674.8" x2="215.3" y2="666.2" stroke-width="1.13"/><line x1="215.3" y1="666.2" x2="299.3" y2="657.8" stroke-width="1.07"/><line x1="299.3" y1="657.8" x2="380.7" y2="649.7" stroke-width="1.01"/><line x1="380.7" y1="649.7" x2="459.6" y2="641.8" stroke-width="0.94"/><line x1="459.6" y1="641.8" x2="536.2" y2="634.1" stroke-width="0.90"/><line x1="536.2" y1="634.1" x2="610.5" y2="626.7" stroke-width="0.90"/><line x1="610.5" y1="626.7" x2="682.7" y2="619.5" stroke-width="0.90"/><line x1="682.7" y1="619.5" x2="752.8" y2="612.5" stroke-width="0.90"/><line x1="752.8" y1="612.5" x2="820.9" y2="605.7" stroke-width="0.90"/><line x1="-38.0" y1="752.1" x2="65.0" y2="740.7" stroke-width="1.72"/><line x1="65.0" y1="740.7" x2="164.4" y2="729.7" stroke-width="1.63"/><line x1="164.4" y1="729.7" x2="260.2" y2="719.1" stroke-width="1.55"/><line x1="260.2" y1="719.1" x2="352.8" y2="708.9" stroke-width="1.47"/><line x1="352.8" y1="708.9" x2="442.1" y2="699.0" stroke-width="1.39"/><line x1="442.1" y1="699.0" x2="528.5" y2="689.5" stroke-width="1.32"/><line x1="528.5" y1="689.5" x2="612.0" y2="680.2" stroke-width="1.25"/><line x1="612.0" y1="680.2" x2="692.8" y2="671.3" stroke-width="1.18"/><line x1="692.8" y1="671.3" x2="771.0" y2="662.7" stroke-width="1.11"/><line x1="771.0" y1="662.7" x2="846.7" y2="654.3" stroke-width="1.04"/><line x1="97.9" y1="812.8" x2="209.5" y2="798.9" stroke-width="2.00"/><line x1="209.5" y1="798.9" x2="316.6" y2="785.6" stroke-width="2.00"/><line x1="316.6" y1="785.6" x2="419.6" y2="772.8" stroke-width="1.97"/><line x1="419.6" y1="772.8" x2="518.6" y2="760.5" stroke-width="1.87"/><line x1="518.6" y1="760.5" x2="613.9" y2="748.6" stroke-width="1.78"/><line x1="613.9" y1="748.6" x2="705.6" y2="737.2" stroke-width="1.69"/><line x1="705.6" y1="737.2" x2="794.1" y2="726.2" stroke-width="1.61"/><line x1="794.1" y1="726.2" x2="879.4" y2="715.6" stroke-width="1.52"/></g><g fill="#98abbd"><ellipse cx="0.5" cy="599.4" rx="4.0" ry="2.4"/><ellipse cx="18.0" cy="637.6" rx="4.1" ry="2.5"/><ellipse cx="39.0" cy="683.7" rx="5.2" ry="3.1"/><ellipse cx="65.0" cy="740.7" rx="6.5" ry="3.9"/><ellipse cx="9.4" cy="492.1" rx="4.0" ry="2.4"/><ellipse cx="22.5" cy="512.2" rx="4.0" ry="2.4"/><ellipse cx="37.6" cy="535.3" rx="4.0" ry="2.4"/><ellipse cx="54.9" cy="561.9" rx="4.0" ry="2.4"/><ellipse cx="75.3" cy="593.1" rx="4.0" ry="2.4"/><ellipse cx="99.5" cy="630.2" rx="4.0" ry="2.4"/><ellipse cx="128.6" cy="674.8" rx="5.0" ry="3.0"/><ellipse cx="164.4" cy="729.7" rx="6.3" ry="3.8"/><ellipse cx="64.5" cy="488.6" rx="4.0" ry="2.4"/><ellipse cx="81.2" cy="508.2" rx="4.0" ry="2.4"/><ellipse cx="100.3" cy="530.7" rx="4.0" ry="2.4"/><ellipse cx="122.3" cy="556.7" rx="4.0" ry="2.4"/><ellipse cx="148.1" cy="587.0" rx="4.0" ry="2.4"/><ellipse cx="178.6" cy="622.9" rx="4.0" ry="2.4"/><ellipse cx="215.3" cy="666.2" rx="4.8" ry="2.9"/><ellipse cx="260.2" cy="719.1" rx="6.0" ry="3.6"/><ellipse cx="316.6" cy="785.6" rx="7.6" ry="4.5"/><ellipse cx="118.5" cy="485.1" rx="4.0" ry="2.4"/><ellipse cx="138.6" cy="504.3" rx="4.0" ry="2.4"/><ellipse cx="161.6" cy="526.2" rx="4.0" ry="2.4"/><ellipse cx="188.1" cy="551.5" rx="4.0" ry="2.4"/><ellipse cx="219.0" cy="581.1" rx="4.0" ry="2.4"/><ellipse cx="255.5" cy="615.9" rx="4.0" ry="2.4"/><ellipse cx="299.3" cy="657.8" rx="4.6" ry="2.8"/><ellipse cx="352.8" cy="708.9" rx="5.8" ry="3.5"/><ellipse cx="419.6" cy="772.8" rx="7.3" ry="4.4"/><ellipse cx="171.5" cy="481.6" rx="4.0" ry="2.4"/><ellipse cx="194.9" cy="500.4" rx="4.0" ry="2.4"/><ellipse cx="221.6" cy="521.8" rx="4.0" ry="2.4"/><ellipse cx="252.3" cy="546.5" rx="4.0" ry="2.4"/><ellipse cx="288.1" cy="575.3" rx="4.0" ry="2.4"/><ellipse cx="330.2" cy="609.1" rx="4.0" ry="2.4"/><ellipse cx="380.7" cy="649.7" rx="4.4" ry="2.7"/><ellipse cx="442.1" cy="699.0" rx="5.6" ry="3.3"/><ellipse cx="518.6" cy="760.5" rx="7.0" ry="4.2"/><ellipse cx="250.0" cy="496.6" rx="4.0" ry="2.4"/><ellipse cx="280.2" cy="517.6" rx="4.0" ry="2.4"/><ellipse cx="315.0" cy="541.6" rx="4.0" ry="2.4"/><ellipse cx="355.4" cy="569.6" rx="4.0" ry="2.4"/><ellipse cx="402.9" cy="602.5" rx="4.0" ry="2.4"/><ellipse cx="459.6" cy="641.8" rx="4.2" ry="2.5"/><ellipse cx="528.5" cy="689.5" rx="5.3" ry="3.2"/><ellipse cx="613.9" cy="748.6" rx="6.7" ry="4.0"/><ellipse cx="304.0" cy="492.9" rx="4.0" ry="2.4"/><ellipse cx="337.6" cy="513.4" rx="4.0" ry="2.4"/><ellipse cx="376.2" cy="536.9" rx="4.0" ry="2.4"/><ellipse cx="421.0" cy="564.1" rx="4.0" ry="2.4"/><ellipse cx="473.6" cy="596.1" rx="4.0" ry="2.4"/><ellipse cx="536.2" cy="634.1" rx="4.1" ry="2.4"/><ellipse cx="612.0" cy="680.2" rx="5.1" ry="3.1"/><ellipse cx="705.6" cy="737.2" rx="6.4" ry="3.9"/><ellipse cx="356.9" cy="489.3" rx="4.0" ry="2.4"/><ellipse cx="393.7" cy="509.3" rx="4.0" ry="2.4"/><ellipse cx="436.0" cy="532.2" rx="4.0" ry="2.4"/><ellipse cx="485.0" cy="558.7" rx="4.0" ry="2.4"/><ellipse cx="542.4" cy="589.8" rx="4.0" ry="2.4"/><ellipse cx="610.5" cy="626.7" rx="4.0" ry="2.4"/><ellipse cx="692.8" cy="671.3" rx="4.9" ry="3.0"/><ellipse cx="794.1" cy="726.2" rx="6.2" ry="3.7"/><ellipse cx="408.7" cy="485.7" rx="4.0" ry="2.4"/><ellipse cx="448.7" cy="505.3" rx="4.0" ry="2.4"/><ellipse cx="494.5" cy="527.6" rx="4.0" ry="2.4"/><ellipse cx="547.4" cy="553.5" rx="4.0" ry="2.4"/><ellipse cx="609.3" cy="583.7" rx="4.0" ry="2.4"/><ellipse cx="682.7" cy="619.5" rx="4.0" ry="2.4"/><ellipse cx="771.0" cy="662.7" rx="4.7" ry="2.8"/><ellipse cx="459.5" cy="482.2" rx="4.0" ry="2.4"/><ellipse cx="502.5" cy="501.3" rx="4.0" ry="2.4"/><ellipse cx="551.6" cy="523.2" rx="4.0" ry="2.4"/><ellipse cx="608.3" cy="548.4" rx="4.0" ry="2.4"/><ellipse cx="674.5" cy="577.8" rx="4.0" ry="2.4"/><ellipse cx="752.8" cy="612.5" rx="4.0" ry="2.4"/><ellipse cx="555.2" cy="497.5" rx="4.0" ry="2.4"/><ellipse cx="607.5" cy="518.8" rx="4.0" ry="2.4"/><ellipse cx="667.8" cy="543.4" rx="4.0" ry="2.4"/><ellipse cx="738.0" cy="572.0" rx="4.0" ry="2.4"/><ellipse cx="606.8" cy="493.7" rx="4.0" ry="2.4"/><ellipse cx="662.2" cy="514.5" rx="4.0" ry="2.4"/><ellipse cx="725.8" cy="538.5" rx="4.0" ry="2.4"/><ellipse cx="799.9" cy="566.3" rx="4.0" ry="2.4"/><ellipse cx="657.4" cy="490.0" rx="4.0" ry="2.4"/><ellipse cx="715.6" cy="510.4" rx="4.0" ry="2.4"/><ellipse cx="782.6" cy="533.7" rx="4.0" ry="2.4"/><ellipse cx="706.9" cy="486.4" rx="4.0" ry="2.4"/><ellipse cx="767.9" cy="506.3" rx="4.0" ry="2.4"/><ellipse cx="755.5" cy="482.9" rx="4.0" ry="2.4"/></g></g>
</svg>

<!-- bars -->
<div class="bar" style="top:215px;width:343px;background:#dc4a34;"></div>
<div class="bar" style="top:254px;width:193px;background:#dd523e;"></div>
<div class="bar" style="top:293px;width:156px;background:#df5b47;"></div>
<div class="bar" style="top:332px;width:115px;background:#e06351;"></div>
<div class="bar" style="top:371px;width:99px;background:#e16b5a;"></div>
<div class="bar" style="top:410px;width:83px;background:#e27464;"></div>
<div class="bar" style="top:449px;width:79px;background:#e47c6d;"></div>
<div class="bar" style="top:488px;width:79px;background:#e58577;"></div>
<div class="bar" style="top:527px;width:76px;background:#e68d80;"></div>
<div class="bar" style="top:566px;width:93px;background:#e7958a;"></div>
<div class="bar" style="top:605px;width:73px;background:#e99e93;"></div>
<div class="bar" style="top:644px;width:48px;background:#eaa69d;"></div>


<!-- axis -->
<div class="a" style="left:282px;top:214px;width:6px;height:459px;background:#c7c7c7;"></div>

<!-- followers icon -->
<svg class="a" style="left:40px;top:428px" width="30" height="36" viewBox="40 428 30 36">
<g fill="#4a79a3">
<circle cx="48.6" cy="434.3" r="3.4"/>
<path d="M43.4 440.2 Q43.4 439.1 44.5 439.1 L51.8 439.1 Q52.9 439.1 52.9 440.2 L52.9 449.6 L51.2 449.6 L51.2 460.9 L45.4 460.9 L45.4 449.6 L43.4 449.6 Z"/>
<circle cx="61" cy="434.3" r="3.4"/>
<path d="M55.9 440.2 Q55.9 439.1 57 439.1 L64.5 439.1 Q65.6 439.1 65.6 440.2 L65.6 449.6 L63.8 449.6 L63.8 460.9 L57.8 460.9 L57.8 449.6 L55.9 449.6 Z"/>
</g>
</svg>

<!-- footer -->
<div class="a" style="left:0;top:724px;width:800px;height:39px;background:#4e7aa1;"></div>
<svg class="a" style="left:118px;top:734px" width="34" height="20" viewBox="118 734 34 20">
<g fill="#ffffff">
<rect x="121" y="739" width="4" height="10"/>
<path d="M127 741 Q127 738 131 737.5 Q134 737 137 739.5 L149 739.5 Q150 739.5 150 741 Q150 742.3 149 742.3 L140.5 742.3 Q141.5 743.5 140.5 745 Q141 747 139.5 748 Q139 750.5 136 750.5 L130 750.5 Q127 750.5 127 748 Z"/>
</g>
</svg>

<svg class="a" style="left:640px;top:618px" width="34" height="34" viewBox="640 618 34 34">
<g fill="none" stroke="#333333" stroke-width="2.7">
<ellipse cx="652.8" cy="629.3" rx="2.9" ry="3.6"/>
<ellipse cx="661.8" cy="640.3" rx="2.9" ry="3.6"/>
</g>
<path d="M661.2 623.8 L664.2 623.8 L653.8 645.8 L650.8 645.8 Z" fill="#333333"/>
</svg>
<div class="tx" style="left:40.66px;top:29.60px;font-size:35.0px;line-height:35.0px;font-weight:bold;color:#4e7aa3;transform:scaleX(0.9197)">INSTAGRAM INFLUENCER</div>
<div class="tx" style="left:41.00px;top:65.00px;font-size:36.0px;line-height:36.0px;font-weight:normal;color:#4e7aa3;-webkit-text-stroke:0.6px #ffffff;transform:scaleX(0.8876)">AVERAGE ENGAGEMENT RATES</div>
<div class="tx" style="left:550.02px;top:75.70px;font-size:21.88px;line-height:21.88px;font-weight:normal;color:#2e2e2e;-webkit-text-stroke:0.25px #2e2e2e;transform:scaleX(0.8414)">BY FOLLOWERS</div>
<div class="tx" style="left:40.21px;top:144.50px;font-size:19.2px;line-height:19.2px;font-weight:bold;color:#d24b36;-webkit-text-stroke:0.15px #d24b36;transform:scaleX(0.7921)">Influencers with smaller followings have higher engagement rates.</div>
<div class="tx" style="left:74.95px;top:431.50px;font-size:16.0px;line-height:16.0px;font-weight:normal;color:#4b6788;-webkit-text-stroke:0.2px #4b6788;text-shadow:0 0 2px #fff,0 0 3px #fff;transform:scaleX(0.7505)">NUMBER OF</div>
<div class="tx" style="left:74.97px;top:445.70px;font-size:16.0px;line-height:16.0px;font-weight:normal;color:#4b6788;-webkit-text-stroke:0.2px #4b6788;text-shadow:0 0 2px #fff,0 0 3px #fff;transform:scaleX(0.7303)">FOLLOWERS</div>
<div class="tx" style="left:592.95px;top:655.00px;font-size:16.0px;line-height:16.0px;font-weight:normal;color:#2f2f2f;-webkit-text-stroke:0.3px #2f2f2f;text-shadow:0 0 2px #fff,0 0 3px #fff;transform:scaleX(0.7533)">ENGAGEMENT RATES</div>
<div class="tx" style="left:156.65px;top:737.20px;font-size:15.7px;line-height:15.7px;font-weight:bold;color:#ffffff;transform:scaleX(0.8518)">Source:</div>
<div class="tx" style="left:209.06px;top:737.20px;font-size:15.7px;line-height:15.7px;font-weight:normal;color:#ffffff;transform:scaleX(0.9410)">influence.co’s Influencer Rate and Engagement Report, April 2017</div>
<div class="tx" style="left:226.91px;top:220.20px;font-size:15.5px;line-height:15.5px;font-weight:normal;color:#4f6f91;text-shadow:0 0 2px #fff,0 0 3px #fff;word-spacing:-1.09px;transform:scaleX(0.8870)">&lt;2,000</div>
<div class="tx" style="left:224.81px;top:259.20px;font-size:15.5px;line-height:15.5px;font-weight:normal;color:#262626;text-shadow:0 0 2px #fff,0 0 3px #fff;word-spacing:-1.09px;transform:scaleX(0.8938)">2K - 5K</div>
<div class="tx" style="left:217.42px;top:298.20px;font-size:15.5px;line-height:15.5px;font-weight:normal;color:#4f6f91;text-shadow:0 0 2px #fff,0 0 3px #fff;word-spacing:-1.09px;transform:scaleX(0.8825)">5K - 10K</div>
<div class="tx" style="left:209.00px;top:337.20px;font-size:15.5px;line-height:15.5px;font-weight:normal;color:#262626;text-shadow:0 0 2px #fff,0 0 3px #fff;word-spacing:-1.09px;transform:scaleX(0.9046)">10K - 25K</div>
<div class="tx" style="left:209.81px;top:376.20px;font-size:15.5px;line-height:15.5px;font-weight:normal;color:#4f6f91;text-shadow:0 0 2px #fff,0 0 3px #fff;word-spacing:-1.09px;transform:scaleX(0.8923)">25K - 50K</div>
<div class="tx" style="left:209.81px;top:415.20px;font-size:15.5px;line-height:15.5px;font-weight:normal;color:#262626;text-shadow:0 0 2px #fff,0 0 3px #fff;word-spacing:-1.09px;transform:scaleX(0.8923)">50K - 75K</div>
<div class="tx" style="left:202.02px;top:454.20px;font-size:15.5px;line-height:15.5px;font-weight:normal;color:#4f6f91;text-shadow:0 0 2px #fff,0 0 3px #fff;word-spacing:-1.09px;transform:scaleX(0.8838)">75K - 100K</div>
<div class="tx" style="left:191.02px;top:493.20px;font-size:15.5px;line-height:15.5px;font-weight:normal;color:#262626;text-shadow:0 0 2px #fff,0 0 3px #fff;word-spacing:-1.09px;transform:scaleX(0.8795)">100K - 150K</div>
<div class="tx" style="left:193.81px;top:532.20px;font-size:15.5px;line-height:15.5px;font-weight:normal;color:#4f6f91;text-shadow:0 0 2px #fff,0 0 3px #fff;word-spacing:-1.09px;transform:scaleX(0.8867)">150K - 250K</div>
<div class="tx" style="left:194.42px;top:571.20px;font-size:15.5px;line-height:15.5px;font-weight:normal;color:#262626;text-shadow:0 0 2px #fff,0 0 3px #fff;word-spacing:-1.09px;transform:scaleX(0.8795)">250K - 500K</div>
<div class="tx" style="left:206.00px;top:610.20px;font-size:15.5px;line-height:15.5px;font-weight:normal;color:#4f6f91;text-shadow:0 0 2px #fff,0 0 3px #fff;word-spacing:-1.09px;transform:scaleX(0.9007)">500K - 1M</div>
<div class="tx" style="left:239.68px;top:649.20px;font-size:15.5px;line-height:15.5px;font-weight:normal;color:#262626;text-shadow:0 0 2px #fff,0 0 3px #fff;word-spacing:-1.09px;transform:scaleX(0.9190)">&gt;1M</div>
<div class="tx" style="left:644.57px;top:219.80px;font-size:15.0px;line-height:15.0px;font-weight:normal;color:#2b2b2b;text-shadow:0 0 2px #fff,0 0 3px #fff;transform:scaleX(0.9317)">10.7%</div>
<div class="tx" style="left:495.70px;top:258.80px;font-size:15.0px;line-height:15.0px;font-weight:normal;color:#2b2b2b;text-shadow:0 0 2px #fff,0 0 3px #fff;transform:scaleX(0.9030)">6.0%</div>
<div class="tx" style="left:461.70px;top:297.80px;font-size:15.0px;line-height:15.0px;font-weight:normal;color:#2b2b2b;text-shadow:0 0 2px #fff,0 0 3px #fff;transform:scaleX(0.8588)">4.9%</div>
<div class="tx" style="left:418.60px;top:336.80px;font-size:15.0px;line-height:15.0px;font-weight:normal;color:#2b2b2b;text-shadow:0 0 2px #fff,0 0 3px #fff;transform:scaleX(0.8970)">3.6%</div>
<div class="tx" style="left:402.70px;top:375.80px;font-size:15.0px;line-height:15.0px;font-weight:normal;color:#2b2b2b;text-shadow:0 0 2px #fff,0 0 3px #fff;transform:scaleX(0.9030)">3.1%</div>
<div class="tx" style="left:386.62px;top:414.80px;font-size:15.0px;line-height:15.0px;font-weight:normal;color:#2b2b2b;text-shadow:0 0 2px #fff,0 0 3px #fff;transform:scaleX(0.8848)">2.6%</div>
<div class="tx" style="left:385.92px;top:453.80px;font-size:15.0px;line-height:15.0px;font-weight:normal;color:#2b2b2b;text-shadow:0 0 2px #fff,0 0 3px #fff;transform:scaleX(0.8848)">2.5%</div>
<div class="tx" style="left:385.92px;top:492.80px;font-size:15.0px;line-height:15.0px;font-weight:normal;color:#2b2b2b;text-shadow:0 0 2px #fff,0 0 3px #fff;transform:scaleX(0.8848)">2.5%</div>
<div class="tx" style="left:383.33px;top:531.80px;font-size:15.0px;line-height:15.0px;font-weight:normal;color:#2b2b2b;text-shadow:0 0 2px #fff,0 0 3px #fff;transform:scaleX(0.8697)">2.4%</div>
<div class="tx" style="left:395.82px;top:570.80px;font-size:15.0px;line-height:15.0px;font-weight:normal;color:#2b2b2b;text-shadow:0 0 2px #fff,0 0 3px #fff;transform:scaleX(0.8848)">2.9%</div>
<div class="tx" style="left:373.64px;top:609.80px;font-size:15.0px;line-height:15.0px;font-weight:normal;color:#2b2b2b;text-shadow:0 0 2px #fff,0 0 3px #fff;transform:scaleX(0.8606)">2.3%</div>
<div class="tx" style="left:354.12px;top:648.80px;font-size:15.0px;line-height:15.0px;font-weight:normal;color:#2b2b2b;text-shadow:0 0 2px #fff,0 0 3px #fff;transform:scaleX(0.8788)">1.5%</div>
</body></html>
